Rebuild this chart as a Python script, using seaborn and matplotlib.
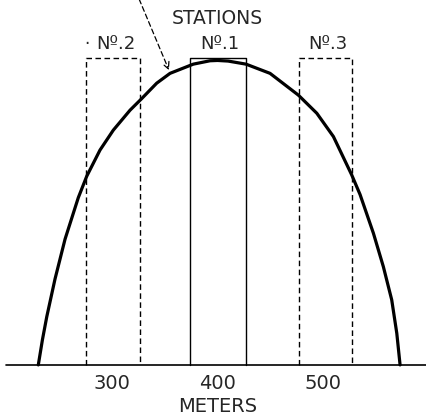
import matplotlib
matplotlib.use("Agg")
import matplotlib.pyplot as plt
import seaborn as sns
import pandas as pd

# resonance curve (meters, relative height)
curve_m = [230.6, 234.5, 238.6, 246.4, 255.9, 268.4, 276.4, 288.9, 301.5, 317.3,
           328.4, 342.5, 355.1, 377.1, 392.9, 400.0, 410.0, 426.9, 449.6,
           476.4, 493.8, 509.5, 526.8, 534.7, 547.3, 556.7, 564.6, 569.4, 572.5]
curve_h = [0.0, 0.082, 0.157, 0.280, 0.410, 0.545, 0.615, 0.700, 0.765, 0.830,
           0.868, 0.918, 0.950, 0.980, 0.991, 0.992, 0.990, 0.980, 0.950,
           0.879, 0.820, 0.744, 0.619, 0.555, 0.429, 0.320, 0.212, 0.103, 0.0]

# stations: name, left edge, right edge (meters), height
station_names = ["Nº.2", "Nº.1", "Nº.3"]
station_left = [276, 374, 477]
station_right = [327, 427, 527]
station_height = [1.0, 1.0, 1.0]
station_dashed = [True, False, True]

tick_vals = [300, 400, 500]
tick_labels = ["300", "400", "500"]

sns.set_style("white")
plt.rcParams["font.family"] = ["DejaVu Sans"]

fig = plt.figure(figsize=(4.26, 4.18), dpi=100)
ax = fig.add_axes([0, 0, 1, 1])
ax.set_xlim(194.4, 597)
ax.set_ylim(-0.173, 1.189)
ax.axis("off")

# baseline
ax.plot([200.5, 597], [0, 0], color="black", lw=1.2)

# station boxes
for name, l, r, h, d in zip(station_names, station_left, station_right,
                            station_height, station_dashed):
    ls = (0, (4, 2.5)) if d else "-"
    ax.plot([l, l, r, r], [0, h, h, 0], color="black", lw=1.0, linestyle=ls)
    ax.text((l + r) / 2 + 2, 1.045, name, ha="center", va="center", fontsize=13)

ax.text(276.5, 1.045, "·", ha="center", va="center", fontsize=12)

df = pd.DataFrame({"m": curve_m, "h": curve_h})
sns.lineplot(data=df, x="m", y="h", ax=ax, color="black", lw=2.3, sort=False)

ax.text(400, 1.13, "STATIONS", ha="center", va="center", fontsize=13.5)

ax.annotate("", xy=(355.1, 0.952), xytext=(324.9, 1.2),
            arrowprops=dict(arrowstyle="->", color="black", lw=0.9,
                            linestyle=(0, (4, 2.5)), mutation_scale=12))

for v, t in zip(tick_vals, tick_labels):
    ax.text(v, -0.062, t, ha="center", va="center", fontsize=14)
ax.text(400, -0.134, "METERS", ha="center", va="center", fontsize=14)

fig.savefig("out.png", dpi=100, facecolor="white")
